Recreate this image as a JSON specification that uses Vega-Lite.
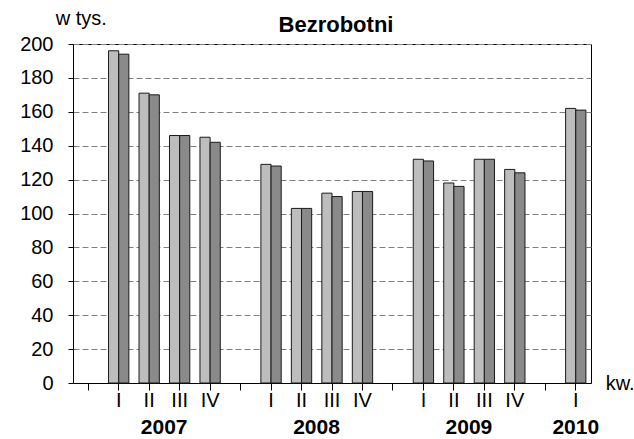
{
  "$schema": "https://vega.github.io/schema/vega-lite/v6.json",
  "width": 518,
  "height": 339,
  "padding": {"left": 19, "top": 9, "right": 0, "bottom": 0},
  "background": "white",
  "config": {
    "font": "Liberation Sans",
    "view": {"stroke": "#000000", "strokeWidth": 1},
    "axis": {"labelColor": "#000000", "titleColor": "#000000", "labelFont": "Liberation Sans", "titleFont": "Liberation Sans"},
    "text": {"font": "Liberation Sans", "color": "#000000"}
  },
  "layer": [
    {
      "data": {
        "values": [
          {"slot": "2007 I", "series": "s1", "value": 196}, {"slot": "2007 I", "series": "s2", "value": 194},
          {"slot": "2007 II", "series": "s1", "value": 171}, {"slot": "2007 II", "series": "s2", "value": 170},
          {"slot": "2007 III", "series": "s1", "value": 146}, {"slot": "2007 III", "series": "s2", "value": 146},
          {"slot": "2007 IV", "series": "s1", "value": 145}, {"slot": "2007 IV", "series": "s2", "value": 142},
          {"slot": "2008 I", "series": "s1", "value": 129}, {"slot": "2008 I", "series": "s2", "value": 128},
          {"slot": "2008 II", "series": "s1", "value": 103}, {"slot": "2008 II", "series": "s2", "value": 103},
          {"slot": "2008 III", "series": "s1", "value": 112}, {"slot": "2008 III", "series": "s2", "value": 110},
          {"slot": "2008 IV", "series": "s1", "value": 113}, {"slot": "2008 IV", "series": "s2", "value": 113},
          {"slot": "2009 I", "series": "s1", "value": 132}, {"slot": "2009 I", "series": "s2", "value": 131},
          {"slot": "2009 II", "series": "s1", "value": 118}, {"slot": "2009 II", "series": "s2", "value": 116},
          {"slot": "2009 III", "series": "s1", "value": 132}, {"slot": "2009 III", "series": "s2", "value": 132},
          {"slot": "2009 IV", "series": "s1", "value": 126}, {"slot": "2009 IV", "series": "s2", "value": 124},
          {"slot": "2010 I", "series": "s1", "value": 162}, {"slot": "2010 I", "series": "s2", "value": 161}
        ]
      },
      "mark": {"type": "bar", "stroke": "#1a1a1a", "strokeWidth": 1},
      "encoding": {
        "x": {"field": "slot", "type": "nominal", "title": null, "scale": {"type": "band", "domain": ["g0", "2007 I", "2007 II", "2007 III", "2007 IV", "g1", "2008 I", "2008 II", "2008 III", "2008 IV", "g2", "2009 I", "2009 II", "2009 III", "2009 IV", "g3", "2010 I"], "paddingInner": 0, "paddingOuter": 0}, "axis": {"labelExpr": "datum.value[0] == 'g' ? '' : slice(datum.value, 5)", "labelFontSize": 20, "labelAngle": 0, "labelOverlap": false, "labelPadding": 0, "tickSize": 7, "tickColor": "#000000", "domainColor": "#000000", "grid": false, "title": null}},
        "xOffset": {"field": "series", "type": "nominal", "scale": {"paddingInner": 0, "paddingOuter": 0.5}},
        "y": {"field": "value", "type": "quantitative", "title": null, "scale": {"domain": [0, 200]}, "axis": {"values": [0, 20, 40, 60, 80, 100, 120, 140, 160, 180, 200], "labelOverlap": false, "grid": true, "gridDash": [6, 3], "gridColor": "#7f7f7f", "domainColor": "#000000", "tickColor": "#000000", "tickSize": 5, "labelFontSize": 20, "labelPadding": 15, "title": null}},
        "color": {"field": "series", "type": "nominal", "scale": {"range": ["#bdbdbd", "#8a8a8a"]}, "legend": null}
      }
    },
    {
      "data": {"values": [{"label": "w tys.", "slot": "g0", "v": 200}]},
      "mark": {"type": "text", "fontSize": 20, "align": "center", "baseline": "alphabetic", "dx": -7, "dy": -19},
      "encoding": {
        "x": {"field": "slot", "type": "nominal", "title": null},
        "y": {"field": "v", "type": "quantitative", "title": null, "scale": {"domain": [0, 200]}, "axis": {"values": [0, 20, 40, 60, 80, 100, 120, 140, 160, 180, 200], "labelOverlap": false, "grid": true, "gridDash": [6, 3], "gridColor": "#7f7f7f", "domainColor": "#000000", "tickColor": "#000000", "tickSize": 5, "labelFontSize": 20, "labelPadding": 15, "title": null}},
        "text": {"field": "label"}
      }
    },
    {
      "data": {"values": [{"label": "Bezrobotni", "slot": "2008 III", "v": 200}]},
      "mark": {"type": "text", "fontSize": 22, "fontWeight": "bold", "align": "center", "baseline": "alphabetic", "dx": 4, "dy": -12},
      "encoding": {
        "x": {"field": "slot", "type": "nominal", "title": null},
        "y": {"field": "v", "type": "quantitative", "title": null, "scale": {"domain": [0, 200]}, "axis": {"values": [0, 20, 40, 60, 80, 100, 120, 140, 160, 180, 200], "labelOverlap": false, "grid": true, "gridDash": [6, 3], "gridColor": "#7f7f7f", "domainColor": "#000000", "tickColor": "#000000", "tickSize": 5, "labelFontSize": 20, "labelPadding": 15, "title": null}},
        "text": {"field": "label"}
      }
    },
    {
      "data": {"values": [{"label": "kw.", "slot": "2010 I", "v": 0}]},
      "mark": {"type": "text", "fontSize": 20, "align": "left", "baseline": "alphabetic", "dx": 30, "dy": 7},
      "encoding": {
        "x": {"field": "slot", "type": "nominal", "title": null},
        "y": {"field": "v", "type": "quantitative", "title": null, "scale": {"domain": [0, 200]}, "axis": {"values": [0, 20, 40, 60, 80, 100, 120, 140, 160, 180, 200], "labelOverlap": false, "grid": true, "gridDash": [6, 3], "gridColor": "#7f7f7f", "domainColor": "#000000", "tickColor": "#000000", "tickSize": 5, "labelFontSize": 20, "labelPadding": 15, "title": null}},
        "text": {"field": "label"}
      }
    },
    {
      "data": {"values": [{"label": "2007", "slot": "2007 II", "v": 0}, {"label": "2008", "slot": "2008 II", "v": 0}, {"label": "2009", "slot": "2009 II", "v": 0}]},
      "mark": {"type": "text", "fontSize": 21, "fontWeight": "bold", "align": "center", "baseline": "alphabetic", "dx": 15, "dy": 51},
      "encoding": {
        "x": {"field": "slot", "type": "nominal", "title": null},
        "y": {"field": "v", "type": "quantitative", "title": null, "scale": {"domain": [0, 200]}, "axis": {"values": [0, 20, 40, 60, 80, 100, 120, 140, 160, 180, 200], "labelOverlap": false, "grid": true, "gridDash": [6, 3], "gridColor": "#7f7f7f", "domainColor": "#000000", "tickColor": "#000000", "tickSize": 5, "labelFontSize": 20, "labelPadding": 15, "title": null}},
        "text": {"field": "label"}
      }
    },
    {
      "data": {"values": [{"label": "2010", "slot": "2010 I", "v": 0}]},
      "mark": {"type": "text", "fontSize": 21, "fontWeight": "bold", "align": "center", "baseline": "alphabetic", "dy": 51},
      "encoding": {
        "x": {"field": "slot", "type": "nominal", "title": null},
        "y": {"field": "v", "type": "quantitative", "title": null, "scale": {"domain": [0, 200]}, "axis": {"values": [0, 20, 40, 60, 80, 100, 120, 140, 160, 180, 200], "labelOverlap": false, "grid": true, "gridDash": [6, 3], "gridColor": "#7f7f7f", "domainColor": "#000000", "tickColor": "#000000", "tickSize": 5, "labelFontSize": 20, "labelPadding": 15, "title": null}},
        "text": {"field": "label"}
      }
    }
  ]
}
